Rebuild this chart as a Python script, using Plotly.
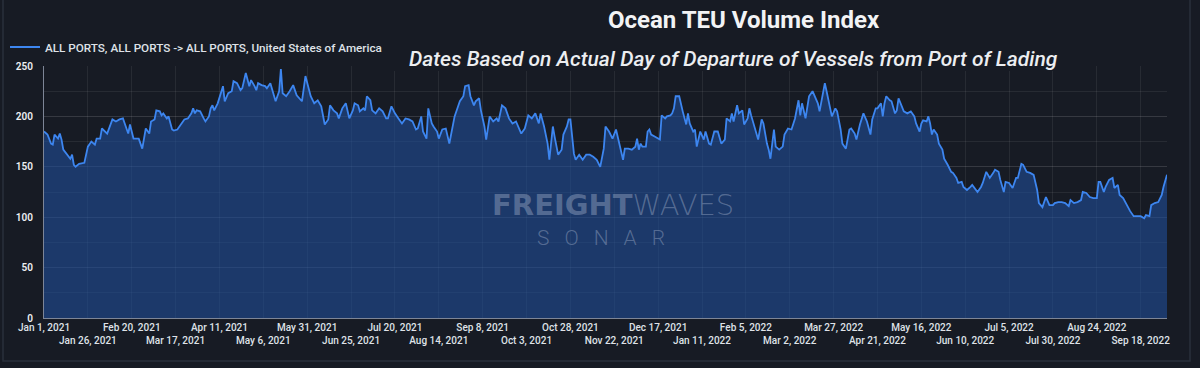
import pandas as pd
import plotly.graph_objects as go

start_date = "2021-01-01"
series_name = "ALL PORTS, ALL PORTS -> ALL PORTS, United States of America"

day_offsets = [
    0, 2, 4, 5, 6, 8, 9, 10, 11, 12, 14, 15, 16, 17, 18, 20, 23, 25, 27, 29, 30, 32, 33, 35, 36, 39,
    41, 43, 45, 46, 48, 49, 51, 54, 55, 56, 58, 60, 61, 63, 64, 66, 67, 68, 70, 71, 73, 74, 76, 78,
    80, 82, 84, 85, 86, 87, 89, 91, 92, 94, 95, 96, 97, 99, 101, 102, 103, 105, 107, 108, 110, 112,
    113, 115, 117, 118, 120, 121, 122, 124, 126, 127, 129, 131, 132, 134, 135, 136, 138, 140, 142,
    144, 147, 149, 151, 152, 154, 156, 158, 160, 162,
    163, 165, 167, 168, 170, 172, 174, 176, 177, 179, 180, 182, 183, 184, 186, 187, 189, 191, 193,
    195, 196, 198, 200, 202, 204, 206, 208, 210, 212, 213, 215, 216, 218, 219, 221, 222, 224, 225,
    227, 229, 231, 232, 234, 236, 237, 239, 240, 242, 243, 245, 246, 248, 249, 251, 252, 254, 256,
    258, 259, 261, 263, 265, 267, 269, 271, 272, 274, 276, 278, 280, 282, 283, 285, 287, 288, 290,
    291, 293, 295, 296, 298, 299, 300, 302, 303, 305, 307, 309, 311, 313, 315, 317, 319, 320, 322,
    324, 326, 328, 329, 330, 331, 333, 335, 337, 338, 339, 340, 341, 343, 344, 345, 346, 348, 351,
    352, 354, 355, 357, 358, 359, 360, 362, 364, 366, 367, 368, 370, 371, 372, 374, 376, 377, 379,
    380, 382, 384, 386, 388, 389, 391, 392, 393, 395, 396, 398, 399, 401, 402, 403, 405, 407, 409,
    410, 412, 413, 414, 416, 417, 419, 421, 422, 424, 426, 428, 430, 431, 432, 434, 436, 438, 440,
    441, 442, 444, 445, 446, 448, 449, 451, 452, 454, 455, 457, 459, 460, 462, 463, 465, 467, 469,
    471, 472, 474, 475, 477, 478, 479, 480, 482,
    483, 485, 486, 487, 488, 490, 492, 494, 496, 497, 499, 500, 501, 503, 504, 505, 506, 507, 509,
    510, 512, 513, 515, 517, 518, 520, 521, 523, 524, 526, 528, 529, 532, 534, 535, 537, 538, 539,
    541, 542, 544, 545, 547, 548, 550, 552, 554, 555, 557, 558, 560, 562, 564, 565, 566, 567, 569,
    571, 573, 575, 576, 578, 580, 582, 584, 585, 587, 589, 591, 592, 594, 596, 598, 600, 601, 602,
    604, 605, 607, 609, 610, 612, 613, 615, 617, 619, 621, 623, 625, 627, 628, 630, 631, 633, 635,
    637, 638, 640,
]

teu_index = [
    185, 182, 173, 172, 182, 178, 183, 177, 167, 165, 160, 158, 162, 152, 150, 153, 154, 170, 175, 172, 178, 178, 188, 185, 183, 197,
    195, 197, 198, 193, 183, 192, 178, 178, 172, 168, 188, 183, 195, 197, 206, 205, 201, 203, 198, 200, 187, 186, 187, 192,
    197, 198, 203, 208, 203, 206, 205, 198, 195, 200, 208, 211, 206, 213, 226, 230, 215, 223, 225, 235, 233, 226,
    228, 243, 230, 236, 230, 226, 233, 231, 230, 228, 233, 220, 215, 225, 247, 223, 220, 225, 231,
    221, 215, 240, 225, 220, 213, 216, 210, 192, 197,
    211, 206, 203, 198, 208, 213, 198, 206, 213, 211, 205, 208, 206, 220, 216, 206, 203, 208, 205,
    198, 198, 210, 203, 198, 193, 198, 197, 195, 187, 188, 200, 185, 178, 208, 193, 190, 185, 178,
    187, 188, 173, 182, 200, 210, 215, 220, 230, 231, 220, 211, 215, 218, 206, 190, 177, 200, 195,
    198, 195, 211, 208, 198, 193, 195, 187, 183, 188, 201, 198, 203, 193, 203, 190, 173, 157, 190,
    180, 162, 167, 182, 190, 197, 197, 163, 157, 162, 157, 162, 162, 160, 157, 150, 168, 190, 185,
    178, 187, 172, 163, 157, 168, 168, 167, 170, 178, 167, 173, 170, 170, 185, 187, 182, 180, 177,
    201, 198, 200, 201, 203, 208, 220, 220, 205, 192, 203, 193, 185, 187, 170, 185, 177, 185, 173,
    172, 185, 185, 173, 177, 198, 195, 203, 195, 211, 203, 206, 192, 198, 208, 201, 188, 177, 197,
    193, 173, 167, 158, 187, 170, 167, 170, 182, 188, 187, 198, 216, 201, 213, 198, 220, 225, 218,
    213, 205, 225, 233, 225, 210, 200, 208, 205, 187, 173, 168, 187, 188, 183, 177, 192, 203, 195,
    182, 197, 208, 208, 213, 200, 213, 220, 216,
    215, 203, 206, 218, 213, 205, 203, 205, 200, 193, 185, 193, 196, 195, 200, 193, 182, 187, 182,
    173, 167, 158, 152, 145, 144, 139, 134, 135, 130, 127, 130, 132, 125, 130, 134, 145, 142, 139,
    144, 147, 145, 137, 125, 135, 134, 129, 139, 139, 153, 152, 145, 144, 142, 135, 127, 114, 110,
    120, 112, 112, 114, 115, 115, 114, 111, 117, 114, 115, 117, 125, 124, 120, 119, 119, 135, 135,
    125, 130, 137, 139, 129, 132, 122, 119, 112, 106, 101, 101, 101, 99, 102, 101, 112, 114, 115,
    122, 130, 142,
]

tick_labels = [
    "Jan 1, 2021", "Jan 26, 2021", "Feb 20, 2021", "Mar 17, 2021", "Apr 11, 2021", "May 6, 2021",
    "May 31, 2021", "Jun 25, 2021", "Jul 20, 2021", "Aug 14, 2021", "Sep 8, 2021", "Oct 3, 2021",
    "Oct 28, 2021", "Nov 22, 2021", "Dec 17, 2021", "Jan 11, 2022", "Feb 5, 2022", "Mar 2, 2022",
    "Mar 27, 2022", "Apr 21, 2022", "May 16, 2022", "Jun 10, 2022", "Jul 5, 2022", "Jul 30, 2022",
    "Aug 24, 2022", "Sep 18, 2022",
]
y_ticks = [0, 50, 100, 150, 200, 250]

dates = pd.Timestamp(start_date) + pd.to_timedelta(day_offsets, unit="D")
tick_dates = pd.to_datetime(tick_labels, format="%b %d, %Y")
tick_text = [t if i % 2 == 0 else "<br>" + t for i, t in enumerate(tick_labels)]

BG = "#171b24"
FONT = "Roboto"
L, R, T, B = 44, 33, 66, 50
PW, PH = 1200 - L - R, 368 - T - B


def px(xp):
    return (xp - L) / PW


def py(yp):
    return (368 - B - yp) / PH


fig = go.Figure()
fig.add_trace(go.Scatter(
    x=dates, y=teu_index, mode="lines", fill="tozeroy",
    fillcolor="rgba(32,79,153,0.6)", line=dict(width=0, color="#3d86f0"),
    showlegend=False, hoverinfo="skip",
))
fig.add_trace(go.Scatter(
    x=dates, y=teu_index, mode="lines", name=series_name,
    line=dict(width=1.8, color="#3d86f0"),
))

grid = "rgba(255,255,255,0.07)"
fig.update_layout(
    width=1200, height=368,
    paper_bgcolor=BG, plot_bgcolor=BG,
    margin=dict(l=L, r=R, t=T, b=B, autoexpand=False),
    font=dict(family=FONT, color="#e4e7ec"),
    showlegend=True,
    legend=dict(
        xref="container", yref="container", x=5 / 1200, y=1 - 47 / 368,
        xanchor="left", yanchor="middle", orientation="h",
        font=dict(size=11.7, color="#dfe2e8", family=FONT, weight=500),
        bgcolor="rgba(0,0,0,0)", itemwidth=30,
    ),
    xaxis=dict(
        type="date", range=[dates[0], dates[-1]],
        tickmode="array", tickvals=tick_dates, ticktext=tick_text,
        tickfont=dict(size=10, color="#dfe2e8", weight=500), tickangle=0,
        showgrid=True, gridcolor=grid, gridwidth=1,
        showline=True, linecolor="#7d8596", linewidth=1,
        ticks="", zeroline=False,
    ),
    yaxis=dict(
        range=[0, 250], tickmode="array", tickvals=y_ticks,
        tickfont=dict(size=10, color="#eef0f3", weight=600),
        showgrid=True, gridcolor=grid, gridwidth=1,
        minor=dict(dtick=25, showgrid=True, gridcolor=grid),
        showline=True, linecolor="#7d8596", linewidth=1,
        ticks="", zeroline=False, ticklabelstandoff=8,
    ),
)

fig.add_shape(type="rect", xref="paper", yref="paper",
              x0=px(385), x1=px(1075), y0=py(71), y1=py(40),
              fillcolor=BG, line=dict(width=0), layer="above")
fig.add_shape(type="rect", xref="paper", yref="paper",
              x0=px(3), x1=px(1190), y0=py(361), y1=py(-40),
              fillcolor="rgba(0,0,0,0)", line=dict(width=1.5, color="#2a303b"), layer="below")

fig.add_annotation(text="Ocean TEU Volume Index", xref="paper", yref="paper",
                   x=px(744), y=py(20), showarrow=False,
                   font=dict(size=24, color="#f2f3f5", family=FONT, weight=700),
                   xanchor="center", yanchor="middle")
fig.add_annotation(text="Dates Based on Actual Day of Departure of Vessels from Port of Lading",
                   xref="paper", yref="paper",
                   x=px(733), y=py(59), showarrow=False,
                   font=dict(size=21, color="#eceef1", family=FONT, weight=500, style="italic"),
                   xanchor="center", yanchor="middle")

wm = "rgba(165,180,205,0.42)"
fig.add_annotation(text="<b>FREIGHT</b>WAVES", xref="paper", yref="paper",
                   x=px(613), y=py(205), showarrow=False,
                   font=dict(size=29, color=wm, family="DejaVu Sans", weight=300),
                   xanchor="center", yanchor="middle")
fig.add_annotation(text="S\u2002\u2009O\u2002\u2009N\u2002\u2009A\u2002\u2009R", xref="paper", yref="paper",
                   x=px(601), y=py(238), showarrow=False,
                   font=dict(size=21, color=wm, family=FONT, weight=300),
                   xanchor="center", yanchor="middle")

fig.write_html(
    "out.html",
    config={"displayModeBar": False},
    post_script="document.body.style.margin='0px';document.body.style.background='" + BG + "';",
)
